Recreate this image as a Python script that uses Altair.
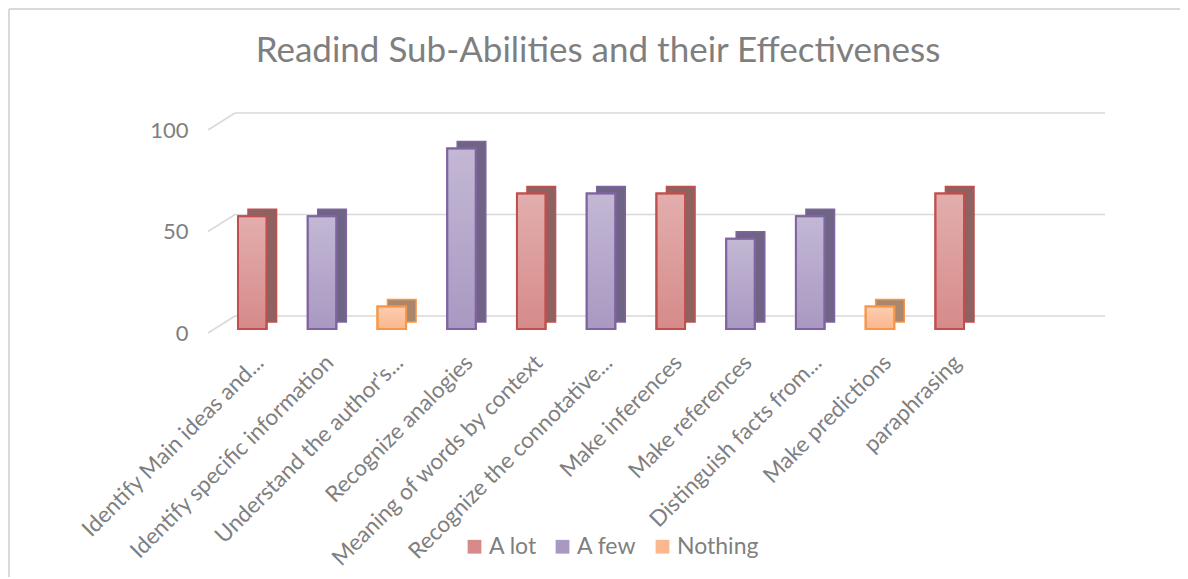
import altair as alt
import pandas as pd

categories = [
    "Identify Main ideas and...",
    "Identify specific information",
    "Understand the author's...",
    "Recognize analogies",
    "Meaning of words by context",
    "Recognize the connotative...",
    "Make inferences",
    "Make references",
    "Distinguish facts from...",
    "Make predictions",
    "paraphrasing",
]
values = [55.6, 55.6, 11.1, 88.9, 66.7, 66.7, 66.7, 44.4, 55.6, 11.1, 66.7]
levels = ["A lot", "A few", "Nothing", "A few", "A lot", "A few",
          "A lot", "A few", "A few", "Nothing", "A lot"]
level_order = ["A lot", "A few", "Nothing"]
grid_values = [0, 50, 100]

front_colors = ["#d68b8a", "#a999c2", "#fbb78e"]
side_colors = ["#8f6262", "#706486", "#a8876e"]
stroke_colors = ["#c0504d", "#8064a2", "#f79646"]

df = pd.DataFrame({"cat": categories, "val": values, "level": levels})
grid_df = pd.DataFrame({"v": grid_values})

TXT = "#7f7f7f"
FONT = "Lato"

xenc = alt.X("cat:N", sort=categories, title=None,
             scale=alt.Scale(paddingInner=0.59, paddingOuter=0.43),
             axis=alt.Axis(labelAngle=-45, domain=False, ticks=False,
                           labelPadding=22, labelFontSize=22.5, labelColor=TXT,
                           labelFont=FONT, labelLimit=0))
yenc = alt.Y("val:Q", title=None,
             scale=alt.Scale(domain=[0, 100], nice=False),
             axis=alt.Axis(values=grid_values, domain=False, ticks=False, grid=False,
                           labelPadding=20, labelFontSize=22, labelColor=TXT,
                           labelFont=FONT, labelOffset=4))

stroke_scale = alt.Scale(domain=level_order, range=stroke_colors)

legend_cfg = dict(title=None, orient="none", legendX=255, legendY=409,
                  direction="horizontal", symbolType="square",
                  symbolSize=190, symbolStrokeWidth=2,
                  labelFontSize=23, labelColor=TXT, labelFont=FONT,
                  columnPadding=14, labelOffset=3)

base = alt.Chart(df)

shadow = base.mark_bar(xOffset=10, yOffset=-7, strokeWidth=1.5).encode(
    x=xenc, y=yenc,
    fill=alt.Fill("level:N", scale=alt.Scale(domain=level_order, range=side_colors), legend=None),
    stroke=alt.Stroke("level:N", scale=stroke_scale, legend=None),
)

front = base.mark_bar(strokeWidth=2).encode(
    x=xenc, y=yenc,
    fill=alt.Fill("level:N", scale=alt.Scale(domain=level_order, range=front_colors),
                  legend=alt.Legend(**legend_cfg)),
    stroke=alt.Stroke("level:N", scale=stroke_scale, legend=alt.Legend(**legend_cfg)),
)

gradient = {
    "gradient": "linear", "x1": 0, "y1": 0, "x2": 0, "y2": 1,
    "stops": [
        {"offset": 0, "color": "rgba(255,255,255,0.3)"},
        {"offset": 1, "color": "rgba(255,255,255,0)"},
    ],
}
overlay = base.mark_bar(fill=gradient, strokeWidth=0).encode(x=xenc, y=yenc)

outline = base.mark_bar(fillOpacity=0, strokeWidth=2).encode(
    x=xenc, y=yenc,
    stroke=alt.Stroke("level:N", scale=stroke_scale, legend=None),
)

gscale = alt.Scale(domain=[0, 100], nice=False)
grid = alt.Chart(grid_df).mark_rule(color="#d9d9d9", strokeWidth=1.5, yOffset=-13).encode(
    x=alt.value(27), x2=alt.value(897),
    y=alt.Y("v:Q", scale=gscale),
)
diag = alt.Chart(grid_df).mark_rule(color="#d9d9d9", strokeWidth=1.5,
                                    yOffset=4, y2Offset=-13).encode(
    x=alt.value(0), x2=alt.value(27),
    y=alt.Y("v:Q", scale=gscale),
    y2=alt.Y2("v:Q"),
)

border = alt.Chart(grid_df).mark_rule(color="#d9d9d9", strokeWidth=2).encode(
    x=alt.value(-199), x2=alt.value(990), y=alt.value(-117)
)
border_left = alt.Chart(grid_df).mark_rule(color="#d9d9d9", strokeWidth=2).encode(
    x=alt.value(-199), y=alt.value(-117), y2=alt.value(470)
)

chart = alt.layer(border, border_left, grid, diag, shadow, front, overlay, outline).resolve_scale(
    fill="independent"
).properties(
    width=786, height=203,
    autosize=alt.AutoSizeParams(type="none"),
    padding={"left": 200, "top": 118, "right": 186, "bottom": 248},
    title=alt.TitleParams("Readind Sub-Abilities and their Effectiveness",
                          fontSize=35, font=FONT, fontWeight="normal", color=TXT,
                          anchor="middle", offset=-61, dx=-3),
).configure_view(stroke=None)

chart.save("out.html", embed_options={"renderer": "svg", "actions": False})
